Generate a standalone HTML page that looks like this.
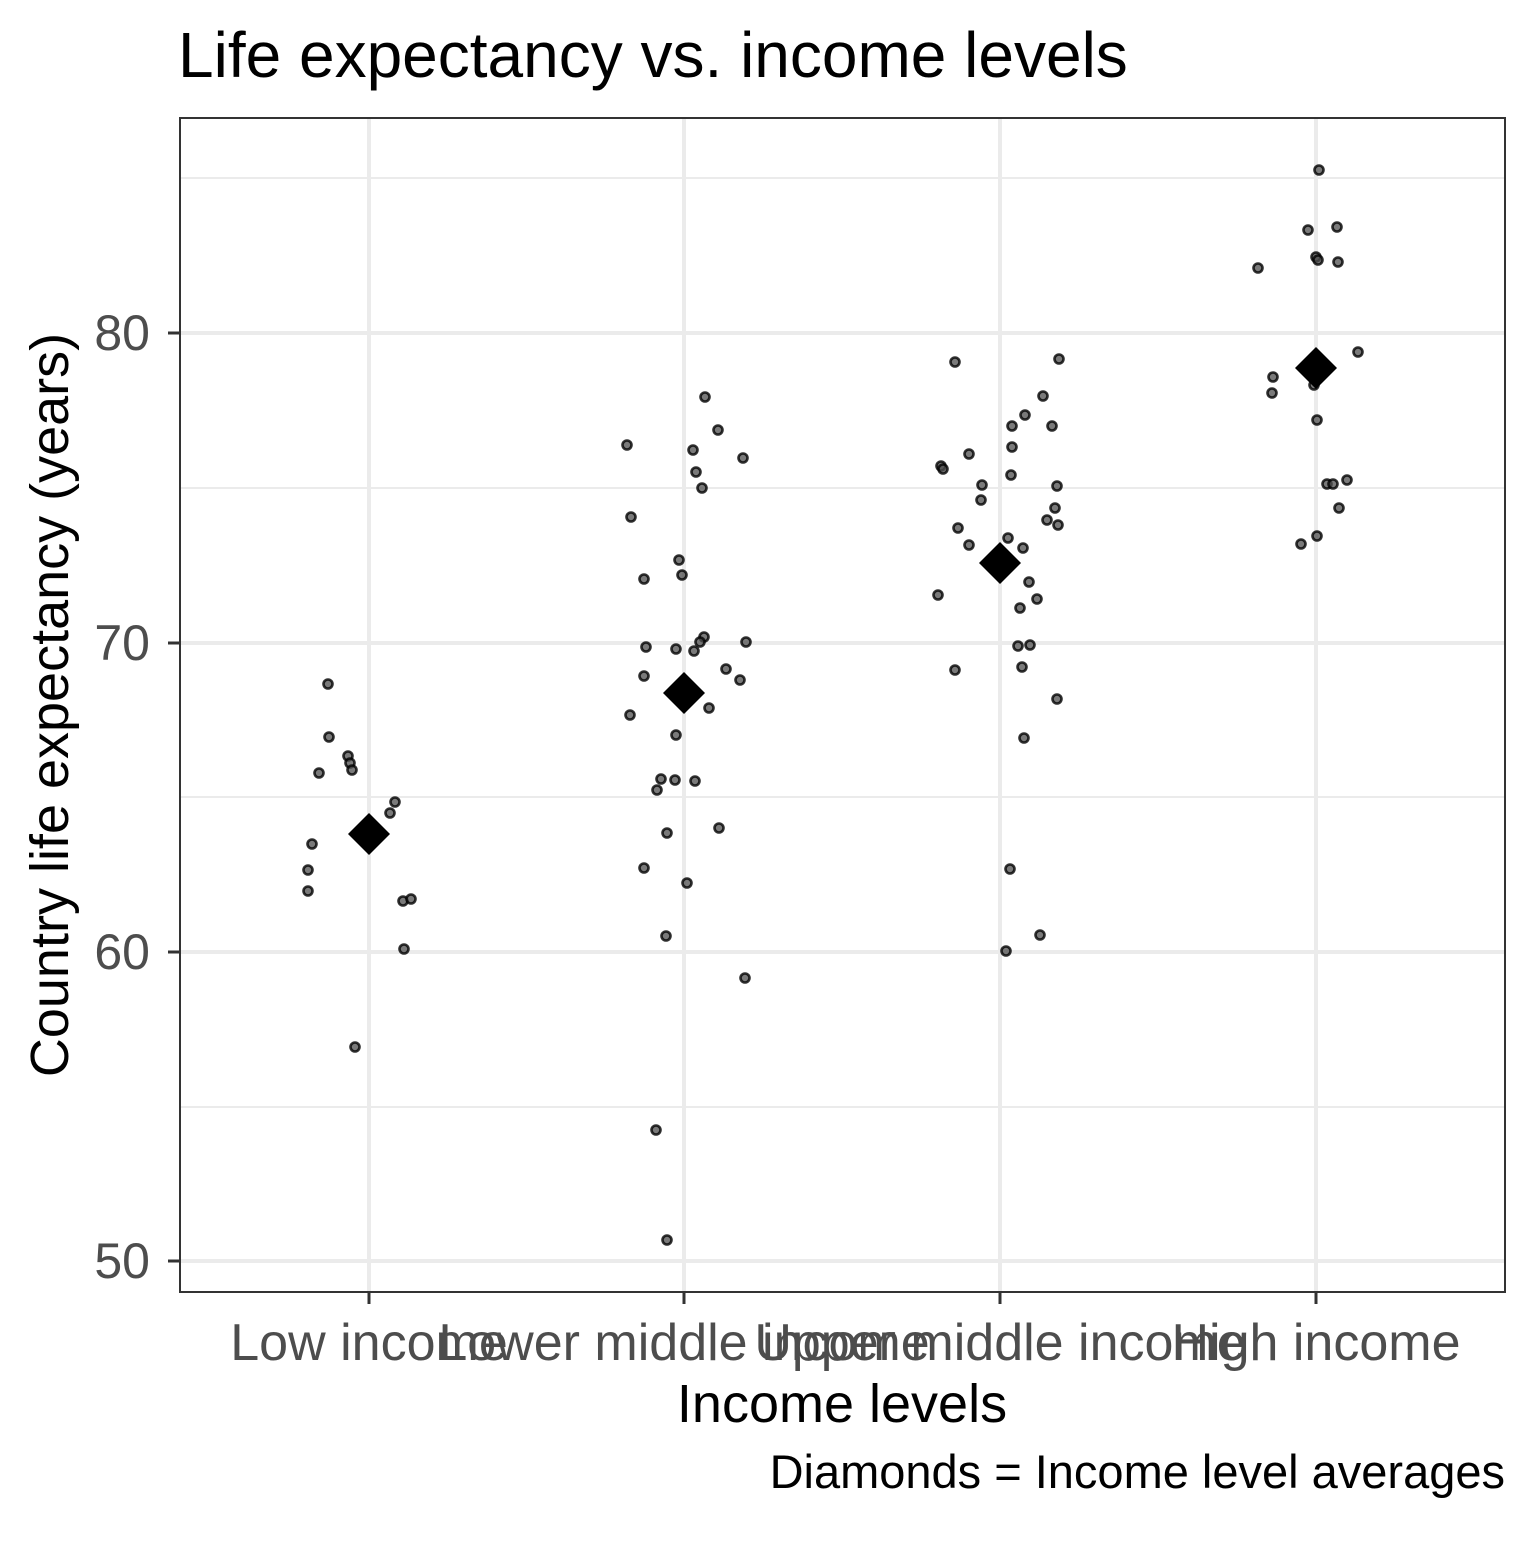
<!DOCTYPE html>
<html><head><style>body{margin:0;background:#fff}</style></head><body>
<svg width="1536" height="1536" xmlns="http://www.w3.org/2000/svg" font-family="Liberation Sans, Arial, sans-serif">
<rect width="1536" height="1536" fill="#fff"/>
<text x="178" y="77" font-size="64" fill="#000">Life expectancy vs. income levels</text>
<g stroke="#ebebeb" stroke-width="2">
<line x1="180" x2="1505" y1="178" y2="178"/><line x1="180" x2="1505" y1="488" y2="488"/>
<line x1="180" x2="1505" y1="797" y2="797"/><line x1="180" x2="1505" y1="1107" y2="1107"/>
</g>
<g stroke="#ebebeb" stroke-width="4">
<line x1="180" x2="1505" y1="333" y2="333"/><line x1="180" x2="1505" y1="643" y2="643"/>
<line x1="180" x2="1505" y1="952" y2="952"/><line x1="180" x2="1505" y1="1261" y2="1261"/>
<line y1="118" y2="1292" x1="369" x2="369"/><line y1="118" y2="1292" x1="684" x2="684"/>
<line y1="118" y2="1292" x1="1000" x2="1000"/><line y1="118" y2="1292" x1="1316" x2="1316"/>
</g>
<g fill="#4d4d4d" fill-opacity="0.75" stroke="#000" stroke-opacity="0.8" stroke-width="2.6" id="pts">
</g>
<g id="dia" fill="#000"></g>
<rect x="180" y="118" width="1325" height="1174" fill="none" stroke="#333" stroke-width="2"/>
<g stroke="#333" stroke-width="3">
<line x1="168" x2="180" y1="333" y2="333"/><line x1="168" x2="180" y1="643" y2="643"/>
<line x1="168" x2="180" y1="952" y2="952"/><line x1="168" x2="180" y1="1261" y2="1261"/>
<line y1="1292" y2="1304" x1="369" x2="369"/><line y1="1292" y2="1304" x1="684" x2="684"/>
<line y1="1292" y2="1304" x1="1000" x2="1000"/><line y1="1292" y2="1304" x1="1316" x2="1316"/>
</g>
<g font-size="50" fill="#4d4d4d" text-anchor="end">
<text x="150" y="350">80</text><text x="150" y="660">70</text><text x="150" y="969">60</text><text x="150" y="1278">50</text>
</g>
<g font-size="52" fill="#4d4d4d" text-anchor="middle">
<text x="369" y="1360">Low income</text><text x="684" y="1360">Lower middle income</text>
<text x="1000" y="1360">Upper middle income</text><text x="1316" y="1360">High income</text>
</g>
<text x="842" y="1422" font-size="54" text-anchor="middle" fill="#000">Income levels</text>
<text transform="translate(68,705) rotate(-90)" font-size="54" text-anchor="middle" fill="#000">Country life expectancy (years)</text>
<text x="1505" y="1488" font-size="47" text-anchor="end" fill="#000">Diamonds = Income level averages</text>
<script>
var p=[[328,684],[329,737],[348,756],[350,763],[352,770],[319,773],[395,802],[390,813],[312,844],[308,870],[308,891],[403,901],[411,899],[404,949],[355,1047],
[627,445],[705,397],[718,430],[693,450],[743,458],[696,472],[702,488],[631,517],[679,560],[682,575],[644,579],[704,637],[700,642],[746,642],[646,647],[676,649],[694,651],[726,669],[644,676],[740,680],[709,708],[630,715],[676,735],[661,779],[675,780],[695,781],[657,790],[719,828],[667,833],[644,868],[687,883],[666,936],[745,978],[656,1130],[667,1240],
[955,362],[1059,359],[1043,396],[1025,415],[1012,426],[1052,426],[969,454],[941,466],[943,469],[1012,447],[1011,475],[982,485],[1057,486],[981,500],[1055,508],[958,528],[1047,520],[1058,525],[1008,538],[969,545],[1023,548],[1029,582],[1037,599],[938,595],[1020,608],[1018,646],[1030,645],[1022,667],[955,670],[1057,699],[1024,738],[1010,869],[1040,935],[1006,951],
[1319,170],[1308,230],[1337,227],[1316,257],[1318,260],[1338,262],[1258,268],[1314,385],[1273,377],[1272,393],[1358,352],[1317,420],[1327,484],[1333,484],[1347,480],[1339,508],[1317,536],[1301,544]];
var g=document.getElementById('pts'),ns='http://www.w3.org/2000/svg';
p.forEach(function(a){var c=document.createElementNS(ns,'circle');c.setAttribute('cx',a[0]);c.setAttribute('cy',a[1]);c.setAttribute('r',4.5);g.appendChild(c);});
var d=document.getElementById('dia');
[[369,834],[684,693],[1000,563],[1316,368]].forEach(function(a){var q=document.createElementNS(ns,'polygon');var s=21;q.setAttribute('points',(a[0])+','+(a[1]-s)+' '+(a[0]+s)+','+a[1]+' '+a[0]+','+(a[1]+s)+' '+(a[0]-s)+','+a[1]);d.appendChild(q);});
</script>
</svg>
</body></html>
